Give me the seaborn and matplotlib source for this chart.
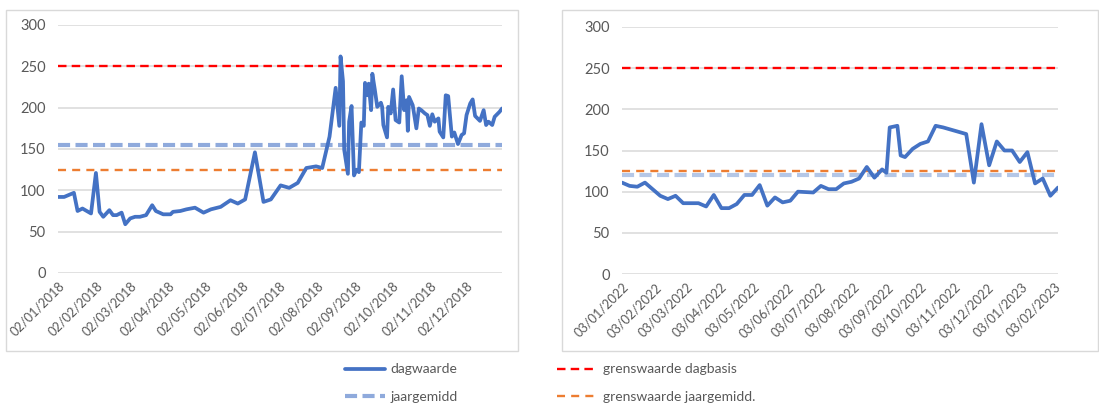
import matplotlib
matplotlib.use("Agg")
import matplotlib.pyplot as plt
import matplotlib.dates as mdates
from matplotlib.lines import Line2D
from matplotlib.patches import Rectangle
import numpy as np
import pandas as pd
import seaborn as sns

# ---- 2018: daily concentrations ----
dates_2018 = [
    "2018-01-02", "2018-01-07", "2018-01-15", "2018-01-18", "2018-01-22", "2018-01-29",
    "2018-02-02", "2018-02-05", "2018-02-08", "2018-02-13", "2018-02-16", "2018-02-19",
    "2018-02-23", "2018-02-26", "2018-03-02", "2018-03-06", "2018-03-10", "2018-03-15",
    "2018-03-20", "2018-03-23", "2018-03-29", "2018-04-04", "2018-04-06", "2018-04-12",
    "2018-04-17", "2018-04-24", "2018-05-01", "2018-05-07", "2018-05-15", "2018-05-23",
    "2018-05-29", "2018-06-04", "2018-06-12", "2018-06-19", "2018-06-25", "2018-07-03",
    "2018-07-10", "2018-07-17", "2018-07-24", "2018-08-01", "2018-08-06", "2018-08-12",
    "2018-08-17", "2018-08-20", "2018-08-21", "2018-08-23", "2018-08-24", "2018-08-27",
    "2018-08-28", "2018-08-30", "2018-09-01", "2018-09-03", "2018-09-05", "2018-09-07",
    "2018-09-09", "2018-09-10", "2018-09-12", "2018-09-13", "2018-09-15", "2018-09-16",
    "2018-09-18", "2018-09-20", "2018-09-23", "2018-09-24", "2018-09-25", "2018-09-28",
    "2018-09-29", "2018-10-01", "2018-10-03", "2018-10-05", "2018-10-08", "2018-10-10",
    "2018-10-12", "2018-10-14", "2018-10-15", "2018-10-16", "2018-10-19", "2018-10-22",
    "2018-10-24", "2018-10-26", "2018-10-29", "2018-10-31", "2018-11-02", "2018-11-04",
    "2018-11-06", "2018-11-09", "2018-11-10", "2018-11-13", "2018-11-15", "2018-11-17",
    "2018-11-20", "2018-11-22", "2018-11-25", "2018-11-28", "2018-11-30", "2018-12-02",
    "2018-12-05", "2018-12-07", "2018-12-09", "2018-12-13", "2018-12-16", "2018-12-18",
    "2018-12-20", "2018-12-23", "2018-12-25", "2018-12-29", "2018-12-31",
]
values_2018 = [
    92, 92, 97, 75, 78, 72,
    121, 74, 68, 76, 70, 70,
    73, 59, 66, 68, 68, 70,
    82, 75, 71, 71, 74, 75,
    77, 79, 73, 77, 80, 88,
    84, 89, 146, 86, 89, 106,
    103, 109, 127, 129, 127, 165,
    224, 178, 262, 232, 149, 120,
    183, 202, 118, 125, 122, 182,
    178, 230, 215, 229, 197, 241,
    222, 201, 206, 201, 179, 164,
    201, 193, 222, 185, 182, 238,
    197, 209, 172, 213, 203, 175,
    199, 197, 193, 191, 178, 192,
    183, 187, 171, 164, 215, 214,
    165, 170, 156, 167, 169, 191,
    205, 210, 190, 184, 197, 179,
    183, 179, 189, 195, 199,
]

# ---- 2022-2023: weekly concentrations ----
dates_2022 = [
    "2022-01-03", "2022-01-10", "2022-01-17", "2022-01-24", "2022-01-31", "2022-02-07",
    "2022-02-14", "2022-02-21", "2022-02-28", "2022-03-14", "2022-03-21", "2022-03-28",
    "2022-04-04", "2022-04-11", "2022-04-18", "2022-04-25", "2022-05-02", "2022-05-09",
    "2022-05-16", "2022-05-23", "2022-05-30", "2022-06-06", "2022-06-13", "2022-06-27",
    "2022-07-04", "2022-07-11", "2022-07-18", "2022-07-25", "2022-08-01", "2022-08-08",
    "2022-08-15", "2022-08-22", "2022-08-29", "2022-09-02", "2022-09-05", "2022-09-12",
    "2022-09-15", "2022-09-19", "2022-09-26", "2022-10-03", "2022-10-10", "2022-10-17",
    "2022-10-24", "2022-11-14", "2022-11-21", "2022-11-28", "2022-12-05", "2022-12-12",
    "2022-12-19", "2022-12-26", "2023-01-02", "2023-01-09", "2023-01-16", "2023-01-23",
    "2023-01-30", "2023-02-06",
]
values_2022 = [
    111, 107, 106, 111, 103, 95,
    91, 95, 86, 86, 82, 96,
    80, 80, 85, 96, 96, 108,
    83, 93, 87, 89, 100, 99,
    107, 103, 103, 110, 112, 116,
    130, 117, 127, 123, 178, 180,
    144, 142, 152, 158, 161, 180,
    178, 170, 111, 182, 132, 161,
    150, 150, 136, 148, 110, 116,
    95, 105,
]

# Reference levels (µg/m³)
limit_daily = 250
limit_annual = 125
annual_mean = [155, 120]

# Tick positions
ticks_2018 = [f"2018-{m:02d}-02" for m in range(1, 13)]
ticks_2022 = [f"2022-{m:02d}-03" for m in range(1, 13)] + ["2023-01-03", "2023-02-03"]

legend_labels = ["dagwaarde", "jaargemidd", "grenswaarde dagbasis", "grenswaarde jaargemidd."]

# ---- styling ----
sns.set_theme(style="white")
plt.rcParams["font.family"] = ["Lato", "DejaVu Sans"]

BLUE = "#4472C4"
RED = "#FF0000"
ORANGE = "#ED7D31"
MEAN_COLORS = ["#8FAADC", "#B4C7E7"]
GRID = "#D9D9D9"
TEXT = "#595959"

W, H = 1099, 403
fig = plt.figure(figsize=(W / 100, H / 100), dpi=100)

def fx(px):
    return px / W

def fy(py):
    return 1 - py / H

# panel frames
for x0, x1 in [(6, 518), (562, 1098)]:
    fig.add_artist(Rectangle((fx(x0), fy(351)), fx(x1) - fx(x0), fy(10) - fy(351),
                             transform=fig.transFigure, fill=False,
                             edgecolor=GRID, linewidth=1.0))

ax1 = fig.add_axes([fx(58), fy(273), fx(502) - fx(58), fy(25) - fy(273)])
ax2 = fig.add_axes([fx(622), fy(274), fx(1058) - fx(622), fy(27) - fy(274)])

panels = [
    (ax1, dates_2018, values_2018, ticks_2018, annual_mean[0], MEAN_COLORS[0]),
    (ax2, dates_2022, values_2022, ticks_2022, annual_mean[1], MEAN_COLORS[1]),
]

for ax, d, v, tk, mean, mcol in panels:
    df = pd.DataFrame({"datum": pd.to_datetime(d), "waarde": v})
    ax.set_facecolor("none")
    ax.axhline(limit_daily, color=RED, lw=1.7, dashes=(3.6, 2.2), zorder=2)
    ax.axhline(limit_annual, color=ORANGE, lw=1.7, dashes=(3.4, 2.6), zorder=2)
    ax.axhline(mean, color=mcol, lw=3.0, dashes=(2.9, 1.3), zorder=2)
    sns.lineplot(data=df, x="datum", y="waarde", ax=ax, color=BLUE, lw=2.7,
                 zorder=3, solid_joinstyle="round")
    ax.set_xlim(df["datum"].min(), df["datum"].max())
    ax.set_ylim(0, 300)
    ax.set_yticks(np.arange(0, 301, 50))
    ax.yaxis.grid(True, color=GRID, lw=1.1)
    ax.xaxis.grid(False)
    ax.set_axisbelow(True)
    for s in ax.spines.values():
        s.set_visible(False)
    ax.set_xticks(pd.to_datetime(tk))
    ax.xaxis.set_major_formatter(mdates.DateFormatter("%d/%m/%Y"))
    ax.tick_params(axis="y", length=0, pad=9, labelsize=10.5, labelcolor=TEXT)
    ax.tick_params(axis="x", length=0, pad=5, labelsize=9.2, labelcolor=TEXT)
    for lab in ax.get_xticklabels():
        lab.set_rotation(45)
        lab.set_ha("right")
        lab.set_rotation_mode("anchor")
    ax.set_xlabel("")
    ax.set_ylabel("")

handles = [
    Line2D([], [], color=BLUE, lw=2.7),
    Line2D([], [], color=MEAN_COLORS[0], lw=3.0, dashes=(2.9, 1.3)),
    Line2D([], [], color=RED, lw=1.7, dashes=(3.6, 2.2)),
    Line2D([], [], color=ORANGE, lw=1.7, dashes=(3.4, 2.6)),
]
fig.legend(handles, legend_labels, ncol=2, loc="center",
           bbox_to_anchor=(fx(550), fy(383)), frameon=False,
           fontsize=10, labelcolor=TEXT, handlelength=2.9, handletextpad=0.35,
           columnspacing=7.2, labelspacing=1.1)

fig.savefig("out.png", dpi=100)
